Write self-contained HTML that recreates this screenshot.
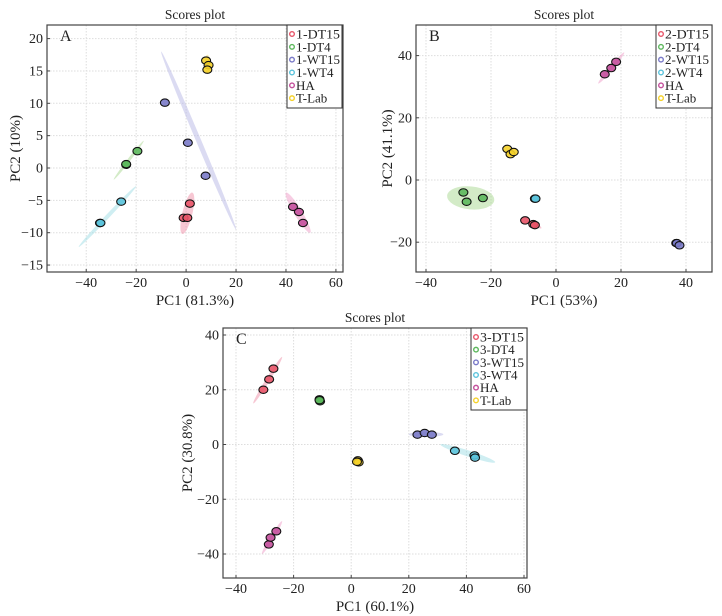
<!DOCTYPE html>
<html><head><meta charset="utf-8">
<style>
body{margin:0;background:#fff;width:722px;height:616px;overflow:hidden}
svg{display:block}
text{font-family:"Liberation Serif",serif;fill:#222}
</style></head>
<body>
<svg id="chart" width="722" height="616"></svg>
<script>
const groupNamesA=["1-DT15","1-DT4","1-WT15","1-WT4","HA","T-Lab"];
const groupNamesB=["2-DT15","2-DT4","2-WT15","2-WT4","HA","T-Lab"];
const groupNamesC=["3-DT15","3-DT4","3-WT15","3-WT4","HA","T-Lab"];
const pointsA=[[[-1,-7.7],[0.5,-7.7],[1.5,-5.5]],[[-24,0.5],[-24,0.6],[-19.5,2.6]],[[-8.5,10.1],[0.7,3.9],[7.8,-1.2]],[[-34.5,-8.5],[-34.3,-8.5],[-26,-5.2]],[[42.8,-6],[45.2,-6.8],[46.8,-8.5]],[[8,16.6],[9,15.9],[8.5,15.2]]];
const pointsB=[[[-9.5,-13],[-7,-14.2],[-6.5,-14.5]],[[-28.5,-4],[-27.5,-7],[-22.5,-5.8]],[[37,-20.3],[37.2,-20.3],[38,-21]],[[-6.5,-6],[-6.3,-6]],[[15,34],[17,36],[18.5,38]],[[-15,10],[-14,8.3],[-13,9]]];
const pointsC=[[[-30.5,20],[-28.5,23.8],[-27,27.7]],[[-11,16.5],[-10.8,15.8],[-11,16.2]],[[23,3.6],[25.5,4.2],[28,3.6]],[[36,-2.3],[42.8,-4],[43,-4.8]],[[-28.6,-36.5],[-28,-34],[-26,-31.7]],[[2.3,-5.8],[2.6,-6.5],[2,-6.3]]];
const ellipsesA=[[-1.5,-10.2,2.5,-3.8],[-29,-1.8,-17,4.2],[-10,18,20,-9.5],[-43,-12.2,-20,-2.8],[40,-3.8,49.7,-10],[8.5,17.5,8.7,14.5]];
const ellipsesB=[[-7.5,-13.5,-4.5,-15.5],[-33.5,-5,-19,-6.5],null,null,[13,31,21,41],[-15.5,9,-12.5,8.5]];
const ellipsesC=[[-34,15,-24,32],null,[20,3.7,32,3.7],[31,0,50,-6.5],[-31,-40,-24,-28],null];
const ellipseHalfA=[5,1.5,2.5,2,4,3];
const ellipseHalfB=[1.5,11.5,0,0,2,3];
const ellipseHalfC=[2,0,2.5,3,2,0];
const xTicksA=[-40,-20,0,20,40,60], yTicksA=[-15,-10,-5,0,5,10,15,20];
const xTicksB=[-40,-20,0,20,40], yTicksB=[-20,0,20,40];
const xTicksC=[-40,-20,0,20,40,60], yTicksC=[-40,-20,0,20,40];
const colors=["#e85468","#5cb85c","#7a7ac8","#5bc3dc","#c4509c","#f5d22a"];
const ellColors=["#ef8fa8","#a8d890","#b8b8e6","#a0dde6","#ef9cc8","#f8e070"];
const NS="http://www.w3.org/2000/svg";
const svg=document.getElementById('chart');
function mk(tag,attrs,parent){const e=document.createElementNS(NS,tag);for(const k in attrs)e.setAttribute(k,attrs[k]);(parent||svg).appendChild(e);return e;}
function panel(cfg){
  const g=mk('g',{});
  
  
  const sx=v=>cfg.x0+v*cfg.kx, sy=v=>cfg.y0-v*cfg.ky;
  const B=cfg.box;
  cfg.xt.forEach(t=>{const l=mk('line',{x1:sx(t),x2:sx(t),y1:B[1],y2:B[3],stroke:'#ddd','stroke-dasharray':'1.5,1.5'},g);
    
    const tx=mk('text',{x:sx(t),y:B[3]+15,'font-size':14,'text-anchor':'middle'},g);tx.textContent=t<0?'\u2212'+(-t):t;
    
    mk('line',{x1:sx(t),x2:sx(t),y1:B[3],y2:B[3]-3,stroke:'#444'},g);});
  cfg.yt.forEach(t=>{const l=mk('line',{x1:B[0],x2:B[2],y1:sy(t),y2:sy(t),stroke:'#ddd','stroke-dasharray':'1.5,1.5'},g);
    
    const tx=mk('text',{x:B[0]-4,y:sy(t)+4.5,'font-size':14,'text-anchor':'end'},g);tx.textContent=t<0?'\u2212'+(-t):t;
    
    mk('line',{x1:B[0],x2:B[0]+3,y1:sy(t),y2:sy(t),stroke:'#444'},g);});
  cfg.ell.forEach((e,i)=>{if(!e||!cfg.eh[i])return;
    const x1=sx(e[0]),y1=sy(e[1]),x2=sx(e[2]),y2=sy(e[3]);
    const cx=(x1+x2)/2,cy=(y1+y2)/2,len=Math.hypot(x2-x1,y2-y1)/2,ang=Math.atan2(y2-y1,x2-x1)*180/Math.PI;
    const el=mk('ellipse',{cx:cx,cy:cy,rx:len,ry:cfg.eh[i],fill:ellColors[i],opacity:0.5,transform:`rotate(${ang} ${cx} ${cy})`},g);
    });
  cfg.pts.forEach((grp,i)=>grp.forEach(p=>{
    const c=mk('ellipse',{cx:sx(p[0]),cy:sy(p[1]),rx:4.5,ry:3.7,fill:colors[i],'fill-opacity':0.9,stroke:'#111','stroke-width':1.1},g);
    }));
  const r=mk('rect',{x:B[0],y:B[1],width:B[2]-B[0],height:B[3]-B[1],fill:'none',stroke:'#444','stroke-width':1.2},g);
  
  const ti=mk('text',{x:(B[0]+B[2])/2,y:B[1]-6,'font-size':13.5,'text-anchor':'middle'},g);ti.textContent='Scores plot';
  
  const pl=mk('text',{x:B[0]+13,y:B[1]+16,'font-size':16},g);pl.textContent=cfg.id;
  
  const xl=mk('text',{x:(B[0]+B[2])/2,y:B[3]+33,'font-size':15,'text-anchor':'middle'},g);xl.textContent=cfg.xl;
  
  const yx=cfg.ylx,yy=(B[1]+B[3])/2;
  const yl=mk('text',{x:yx,y:yy,'font-size':15,'text-anchor':'middle',transform:`rotate(-90 ${yx} ${yy})`},g);yl.textContent=cfg.yl;
  
  const L=cfg.leg;
  const lg=mk('g',{},g);
  mk('rect',{x:L[0],y:L[1],width:L[2]-L[0],height:L[3]-L[1],fill:'#fff',stroke:'#333'},lg);
  const step=(L[3]-L[1]-6)/6;
  cfg.names.forEach((n,i)=>{const y=L[1]+9+i*step;
    const m=mk('circle',{cx:L[0]+5,cy:y,r:2.3,fill:'#fff',stroke:colors[i],'stroke-width':1.4},lg);
    
    const t=mk('text',{x:L[0]+9,y:y+4.5,'font-size':13},lg);t.textContent=n;
    if(n.length>=6){t.setAttribute('textLength',44);t.setAttribute('lengthAdjust','spacingAndGlyphs');}
    });
}
panel({id:'A',box:[47,25,343,272],x0:186.1,kx:2.497,y0:168,ky:6.47,xt:xTicksA,yt:yTicksA,pts:pointsA,ell:ellipsesA,eh:ellipseHalfA,names:groupNamesA,leg:[287,25,342,108],xl:'PC1 (81.3%)',yl:'PC2 (10%)',ylx:20});
panel({id:'B',box:[416,25,712,272],x0:556,kx:3.25,y0:180,ky:3.11,xt:xTicksB,yt:yTicksB,pts:pointsB,ell:ellipsesB,eh:ellipseHalfB,names:groupNamesB,leg:[656,25,712,108],xl:'PC1 (53%)',yl:'PC2 (41.1%)',ylx:392});
panel({id:'C',box:[223,328,527,578],x0:351.2,kx:2.88,y0:444.5,ky:2.7375,xt:xTicksC,yt:yTicksC,pts:pointsC,ell:ellipsesC,eh:ellipseHalfC,names:groupNamesC,leg:[471,328,527,410],xl:'PC1 (60.1%)',yl:'PC2 (30.8%)',ylx:192});
</script>
</body></html>
